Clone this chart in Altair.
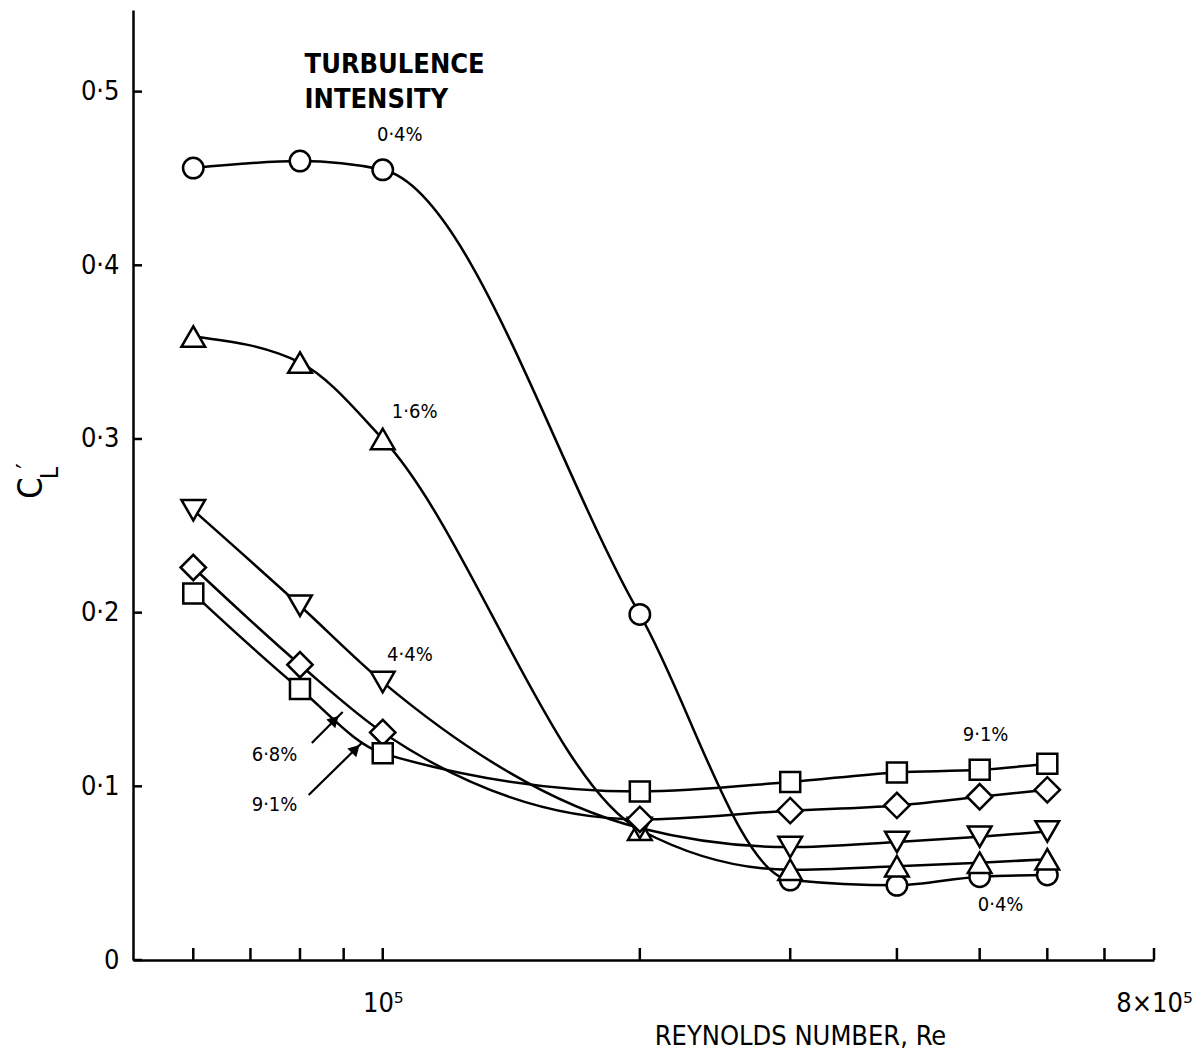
import altair as alt
import pandas as pd

FONT = "DejaVu Sans Condensed, DejaVu Sans, sans-serif"

# Reynolds numbers of the measurements
re = [6e4, 8e4, 1e5, 2e5, 3e5, 4e5, 5e5, 6e5]

# C_L' for each turbulence intensity
cl_04 = [0.456, 0.460, 0.455, 0.199, 0.046, 0.043, 0.048, 0.049]
cl_16 = [0.359, 0.344, 0.300, 0.075, 0.052, 0.054, 0.056, 0.058]
cl_44 = [0.259, 0.204, 0.160, 0.076, 0.065, 0.068, 0.071, 0.074]
cl_68 = [0.226, 0.170, 0.131, 0.081, 0.086, 0.089, 0.094, 0.098]
cl_91 = [0.211, 0.156, 0.119, 0.097, 0.1025, 0.108, 0.1095, 0.113]

series_names = ["0.4%", "1.6%", "4.4%", "6.8%", "9.1%"]
series_values = [cl_04, cl_16, cl_44, cl_68, cl_91]
series_shapes = ["circle", "triangle-up", "triangle-down", "diamond", "square"]
shape_sizes = {"circle": 420, "triangle-up": 560, "triangle-down": 560,
               "diamond": 640, "square": 400}

# axis ticks
x_ticks = [6e4, 7e4, 8e4, 9e4, 1e5, 2e5, 3e5, 4e5, 5e5, 6e5, 7e5, 8e5]
y_ticks = [0, 0.1, 0.2, 0.3, 0.4, 0.5]

# annotations
ann_text = ["0·4%", "1·6%", "4·4%", "6·8%", "9·1%", "9·1%", "0·4%"]
ann_re = [1.047e5, 1.09e5, 1.076e5, 7.47e4, 7.47e4, 5.08e5, 5.29e5]
ann_cl = [0.475, 0.3156, 0.1756, 0.118, 0.0893, 0.1296, 0.0317]

head_text = ["TURBULENCE", "INTENSITY"]
head_re = [8.1e4, 8.1e4]
head_cl = [0.5154, 0.4952]

# leader arrows for 6.8% and 9.1%
arr_re = [8.26e4, 8.19e4]
arr_cl = [0.125, 0.095]
arr_re2 = [8.976e4, 9.474e4]
arr_cl2 = [0.1428, 0.1255]
head_pos_re = [8.785e4, 9.297e4]
head_pos_cl = [0.1382, 0.1215]

# y-axis title pieces: C, subscript L, prime
ytitle_text = ["C", "L", "′"]

rows = []
for name, vals, shp in zip(series_names, series_values, series_shapes):
    for r, v in zip(re, vals):
        rows.append({"re": r, "cl": v, "series": name, "shape": shp,
                     "msize": shape_sizes[shp]})
df = pd.DataFrame(rows)

xscale = alt.Scale(type="log", domain=[51000, 800000], nice=False)
yscale = alt.Scale(domain=[0, 0.547], nice=False)

xaxis = alt.Axis(
    values=[1e5, 8e5],
    labelExpr="datum.value == 100000 ? '10⁵' : (datum.value == 800000 ? '8×10⁵' : '')",
    ticks=False, grid=False, domainWidth=2.5, domainColor="black",
    labelFont=FONT, labelFontSize=27, labelColor="black", labelPadding=30,
    labelFlush=False, labelOverlap=False,
    title="REYNOLDS NUMBER,  Re", titleFont=FONT, titleFontSize=27,
    titleFontWeight="normal", titleColor="black",
    titleX=667, titleY=76, titleAlign="center", titleBaseline="middle",
)
yaxis = alt.Axis(
    values=y_ticks,
    labelExpr="datum.value == 0 ? '0' : replace(format(datum.value, '.1f'), '.', '·')",
    ticks=False, grid=False, domainWidth=2.5, domainColor="black",
    labelFont=FONT, labelFontSize=27, labelColor="black", labelPadding=14,
    labelFlush=False, title=None,
)

lines = alt.Chart(df).mark_line(
    interpolate="monotone", color="black", strokeWidth=2.5
).encode(
    x=alt.X("re:Q", scale=xscale, axis=xaxis),
    y=alt.Y("cl:Q", scale=yscale, axis=yaxis),
    detail="series:N",
)

points = alt.Chart(df).mark_point(
    filled=True, fill="white", stroke="black", strokeWidth=2.5, opacity=1
).encode(
    x="re:Q",
    y="cl:Q",
    shape=alt.Shape("shape:N", scale=None),
    size=alt.Size("msize:Q", scale=None),
)

ytick_df = pd.DataFrame({"cl": y_ticks})
yticks = alt.Chart(ytick_df).mark_rule(color="black", strokeWidth=2.5).encode(
    y="cl:Q", x=alt.value(0), x2=alt.value(9)
)
xtick_df = pd.DataFrame({"re": x_ticks})
xticks = alt.Chart(xtick_df).mark_rule(color="black", strokeWidth=2.5).encode(
    x="re:Q", y=alt.value(950), y2=alt.value(938)
)

ann_df = pd.DataFrame({"re": ann_re, "cl": ann_cl, "text": ann_text})
ann = alt.Chart(ann_df).mark_text(
    font=FONT, fontSize=20, color="black", align="center", baseline="middle"
).encode(x="re:Q", y="cl:Q", text="text:N")

head_df = pd.DataFrame({"re": head_re, "cl": head_cl, "text": head_text})
head = alt.Chart(head_df).mark_text(
    font=FONT, fontSize=27, fontWeight="bold", color="black",
    align="left", baseline="middle"
).encode(x="re:Q", y="cl:Q", text="text:N")

arr_df = pd.DataFrame({"re": arr_re, "cl": arr_cl, "re2": arr_re2, "cl2": arr_cl2})
arrows = alt.Chart(arr_df).mark_rule(color="black", strokeWidth=2.2).encode(
    x="re:Q", y="cl:Q", x2="re2:Q", y2="cl2:Q"
)
ah_df = pd.DataFrame({"re": head_pos_re, "cl": head_pos_cl})
arrowheads = alt.Chart(ah_df).mark_point(
    shape="triangle-up", filled=True, color="black", angle=45, size=160, opacity=1
).encode(x="re:Q", y="cl:Q")

# y-axis title drawn as rotated pieces (C with subscript L and prime)
yt_df = pd.DataFrame({"t": ytitle_text})
yt_c = alt.Chart(yt_df).transform_filter("datum.t == 'C'").mark_text(
    font=FONT, fontSize=34, angle=270, color="black", align="center", baseline="middle"
).encode(text="t:N", x=alt.value(-101), y=alt.value(478))
yt_l = alt.Chart(yt_df).transform_filter("datum.t == 'L'").mark_text(
    font=FONT, fontSize=24, angle=270, color="black", align="center", baseline="middle"
).encode(text="t:N", x=alt.value(-82), y=alt.value(463))
yt_p = alt.Chart(yt_df).transform_filter("datum.t == '′'").mark_text(
    font=FONT, fontSize=28, angle=270, color="black", align="center", baseline="middle"
).encode(text="t:N", x=alt.value(-104), y=alt.value(456))

chart = alt.layer(
    lines, yticks, xticks, arrows, arrowheads, points, ann, head, yt_c, yt_l, yt_p
).properties(
    width=1021, height=950,
    autosize=alt.AutoSizeParams(type="none"),
    padding={"left": 125, "top": 2, "right": 42, "bottom": 93},
    background="white",
).configure_view(stroke=None)

chart.save("out.html", embed_options={"renderer": "svg", "actions": False})
